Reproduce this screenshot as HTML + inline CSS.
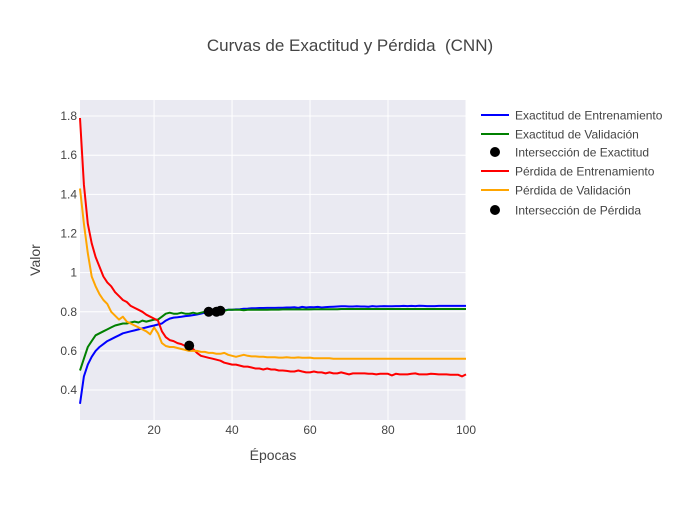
<!DOCTYPE html>
<html><head><meta charset="utf-8"><style>
body{margin:0;background:#fff;font-family:"Liberation Sans",sans-serif;}
svg text{font-family:"Liberation Sans",sans-serif;fill:#444;}
</style></head><body>
<svg id="chart" width="700" height="500">
<rect x="0" y="0" width="700" height="500" fill="#fff"/>
<rect x="80" y="100" width="386" height="320" fill="#eaeaf2"/>
<g id="grid"></g><g id="series"></g><g id="ticks"></g>
<text x="350" y="51" text-anchor="middle" font-size="17">Curvas de Exactitud y Pérdida&#160; (CNN)</text>
<text x="273" y="460" text-anchor="middle" font-size="14">Épocas</text>
<text x="40" y="260" text-anchor="middle" font-size="14" transform="rotate(-90 40 260)">Valor</text>
<g id="legend"></g>
</svg>
<script>
const trainAcc=[0.33,0.47,0.53,0.57,0.60,0.62,0.635,0.65,0.66,0.67,0.68,0.69,0.695,0.70,0.705,0.71,0.715,0.72,0.725,0.73,0.735,0.74,0.755,0.765,0.77,0.772,0.775,0.778,0.78,0.783,0.786,0.79,0.795,0.80,0.80,0.803,0.806,0.808,0.81,0.81,
0.812,0.813,0.815,0.816,0.818,0.818,0.819,0.819,0.82,0.82,0.82,0.821,0.821,0.822,0.822,0.823,0.82,0.825,0.822,0.824,0.823,0.825,0.822,0.824,0.825,0.826,0.827,0.828,0.828,0.827,0.827,0.828,0.827,0.827,0.826,0.829,0.827,0.828,0.829,0.828,0.828,0.829,0.829,0.83,0.829,0.83,0.829,0.831,0.83,0.829,0.829,0.829,0.83,0.83,0.83,0.83,0.83,0.83,0.83,0.83];
const valAcc=[0.50,0.56,0.62,0.65,0.68,0.69,0.70,0.71,0.72,0.73,0.735,0.74,0.74,0.745,0.75,0.745,0.755,0.75,0.755,0.76,0.76,0.775,0.79,0.795,0.79,0.79,0.795,0.79,0.79,0.795,0.79,0.795,0.80,0.80,0.80,0.80,0.80,0.805,0.81,0.81,
0.81,0.81,0.808,0.81,0.81,0.81,0.81,0.81,0.81,0.811,0.811,0.811,0.812,0.812,0.812,0.812,0.812,0.812,0.812,0.812,0.813,0.813,0.813,0.813,0.813,0.813,0.813,0.814,0.814,0.814,0.814,0.814,0.814,0.814,0.814,0.814,0.814,0.814,0.814,0.814,0.814,0.814,0.814,0.814,0.814,0.814,0.814,0.814,0.814,0.814,0.814,0.814,0.814,0.814,0.814,0.814,0.814,0.814,0.814,0.814];
const trainLoss=[1.79,1.45,1.25,1.15,1.08,1.03,0.98,0.95,0.93,0.90,0.88,0.86,0.85,0.83,0.82,0.81,0.80,0.785,0.775,0.765,0.755,0.70,0.67,0.655,0.65,0.64,0.635,0.625,0.615,0.61,0.59,0.575,0.57,0.565,0.56,0.555,0.55,0.54,0.535,0.53,
0.53,0.525,0.52,0.52,0.515,0.51,0.51,0.505,0.51,0.505,0.505,0.50,0.50,0.498,0.495,0.495,0.50,0.495,0.49,0.49,0.495,0.49,0.49,0.485,0.49,0.485,0.485,0.49,0.485,0.48,0.485,0.485,0.485,0.485,0.483,0.483,0.48,0.483,0.483,0.483,0.475,0.483,0.48,0.48,0.48,0.483,0.485,0.48,0.48,0.48,0.483,0.482,0.48,0.48,0.48,0.478,0.478,0.478,0.47,0.48];
const valLoss=[1.43,1.25,1.10,0.98,0.93,0.89,0.86,0.84,0.80,0.78,0.76,0.775,0.75,0.74,0.73,0.72,0.71,0.70,0.685,0.72,0.69,0.64,0.625,0.62,0.62,0.615,0.61,0.605,0.60,0.60,0.60,0.595,0.595,0.59,0.59,0.585,0.585,0.59,0.58,0.575,
0.57,0.575,0.58,0.575,0.572,0.572,0.57,0.57,0.568,0.568,0.568,0.566,0.566,0.568,0.566,0.565,0.567,0.565,0.565,0.566,0.563,0.563,0.562,0.562,0.562,0.56,0.56,0.56,0.56,0.56,0.56,0.56,0.56,0.56,0.56,0.56,0.56,0.56,0.56,0.56,0.56,0.56,0.56,0.56,0.56,0.56,0.56,0.56,0.56,0.56,0.56,0.56,0.56,0.56,0.56,0.56,0.56,0.56,0.56,0.56];
const accIntX=[34,36,37];
const accIntY=[0.80,0.80,0.805];
const lossIntX=[29];
const lossIntY=[0.627];
const xTicks=[20,40,60,80,100];
const yTicks=[0.4,0.6,0.8,1,1.2,1.4,1.6,1.8];
const yTickLabels=["0.4","0.6","0.8","1","1.2","1.4","1.6","1.8"];
const seriesNames=["Exactitud de Entrenamiento","Exactitud de Validación","Intersección de Exactitud","Pérdida de Entrenamiento","Pérdida de Validación","Intersección de Pérdida"];

const X0=80,X1=466,Y0=100,Y1=420,xmin=1,xmax=100,ymin=0.247,ymax=1.882;
const xs=v=>X0+(v-xmin)/(xmax-xmin)*(X1-X0);
const ys=v=>Y1-(v-ymin)/(ymax-ymin)*(Y1-Y0);
const NS="http://www.w3.org/2000/svg";
function mk(t,a,p){const e=document.createElementNS(NS,t);for(const k in a)e.setAttribute(k,a[k]);p.appendChild(e);return e;}
const grid=document.getElementById('grid'),ticks=document.getElementById('ticks'),ser=document.getElementById('series'),leg=document.getElementById('legend');
xTicks.forEach(t=>{const l=mk('line',{x1:xs(t),x2:xs(t),y1:Y0,y2:Y1,stroke:'#fff','stroke-width':1},grid);


const tx=mk('text',{x:xs(t),y:434,'text-anchor':'middle','font-size':12},ticks);tx.textContent=t;

});
yTicks.forEach((t,i)=>{const l=mk('line',{x1:X0,x2:X1,y1:ys(t),y2:ys(t),stroke:'#fff','stroke-width':1},grid);


const tx=mk('text',{x:77,y:ys(t)+4,'text-anchor':'end','font-size':12},ticks);tx.textContent=yTickLabels[i];

});
function line(data,color,name){const d=data.map((v,i)=>(i?'L':'M')+xs(i+1).toFixed(1)+','+ys(v).toFixed(1)).join('');
const p=mk('path',{d:d,fill:'none',stroke:color,'stroke-width':2,'stroke-linejoin':'round'},ser);

}
line(trainAcc,'#0000ff','train-accuracy-line');
line(valAcc,'#008000','val-accuracy-line');
line(trainLoss,'#ff0000','train-loss-line');
line(valLoss,'#ffa500','val-loss-line');
function pts(xa,ya,name){xa.forEach((x,i)=>{const c=mk('circle',{cx:xs(x),cy:ys(ya[i]),r:5,fill:'#000'},ser);

});}
pts(accIntX,accIntY,'accuracy-intersection-point');
pts(lossIntX,lossIntY,'loss-intersection-point');
const legColors=['#0000ff','#008000',null,'#ff0000','#ffa500',null];
const legY=[115,134,152,171,190,210];
seriesNames.forEach((n,i)=>{const g=mk('g',{},leg);


if(legColors[i])mk('line',{x1:481,x2:509,y1:legY[i],y2:legY[i],stroke:legColors[i],'stroke-width':2},g);
else mk('circle',{cx:495,cy:legY[i],r:5,fill:'#000'},g);
const t=mk('text',{x:515,y:legY[i]+4.5,'font-size':12},g);t.textContent=n;});
</script>
</body></html>
